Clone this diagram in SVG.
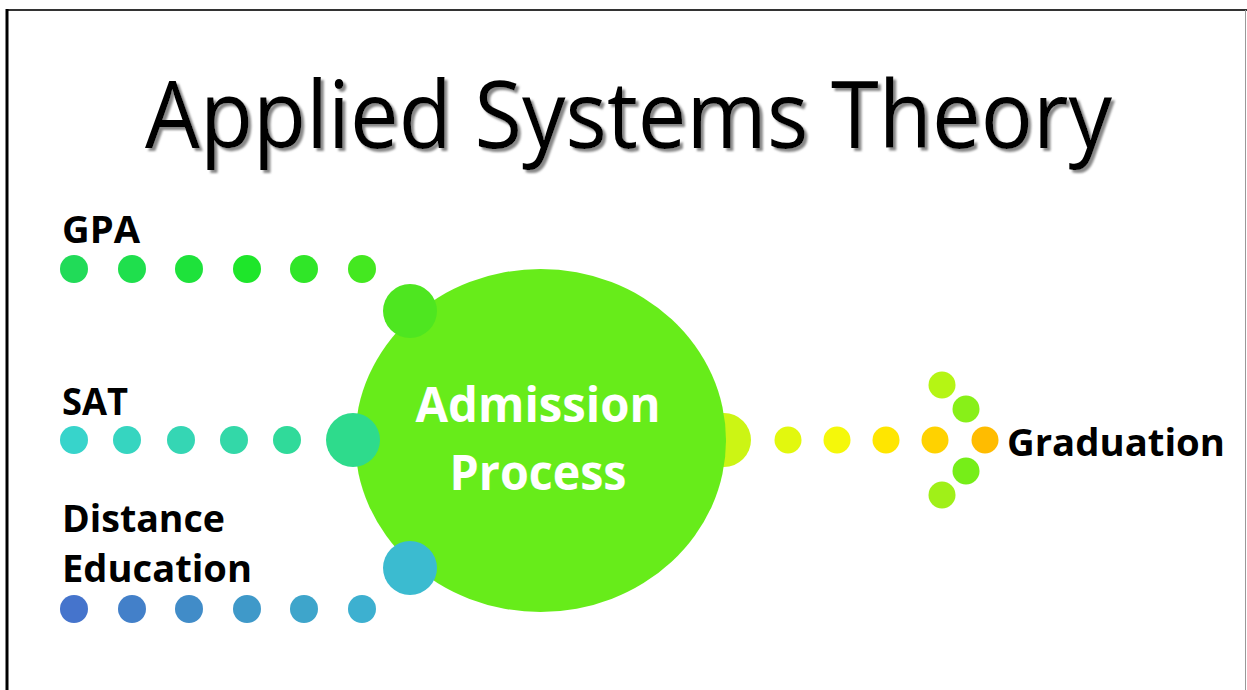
<svg xmlns="http://www.w3.org/2000/svg" width="1247" height="690" viewBox="0 0 1247 690">
<defs>
<filter id="shadow" x="-5%" y="-20%" width="110%" height="140%">
<feDropShadow dx="3" dy="3" stdDeviation="0.8" flood-color="#888" flood-opacity="1"/>
</filter>
</defs>
<style>
.lbl{font-family:"Open Sans","Liberation Sans",sans-serif;font-weight:700;font-size:37px;fill:#000}
.title{font-family:"Open Sans","Liberation Sans",sans-serif;font-weight:400;font-size:94px;fill:#000}
.inner{font-family:"Open Sans","Liberation Sans",sans-serif;font-weight:700;font-size:48px;fill:#fff}
</style>
<rect x="0" y="0" width="1247" height="690" fill="#fff"/>
<g id="frame">
<line x1="7" y1="10" x2="1247" y2="10" stroke="#333" stroke-width="2"/>
<line x1="7" y1="9" x2="7" y2="690" stroke="#000" stroke-width="3"/>
<line x1="1245.5" y1="10" x2="1245.5" y2="690" stroke="#999" stroke-width="1"/>
</g>
<g id="title">
<text class="title" x="145" y="148" filter="url(#shadow)" textLength="967" lengthAdjust="spacingAndGlyphs">Applied Systems Theory</text>
</g>
<g id="connectors">
<g id="gpa-dots">
<circle cx="74" cy="269" r="14" fill="#21DB58"/>
<circle cx="132" cy="269" r="14" fill="#1FDF4D"/>
<circle cx="189" cy="269" r="14" fill="#1EE23B"/>
<circle cx="247" cy="269" r="14" fill="#1EE62A"/>
<circle cx="304" cy="269" r="14" fill="#30E628"/>
<circle cx="362" cy="269" r="14" fill="#44E820"/>
</g>
<g id="sat-dots">
<circle cx="74" cy="440" r="14" fill="#37D4CB"/>
<circle cx="127" cy="440" r="14" fill="#36D5C0"/>
<circle cx="181" cy="440" r="14" fill="#35D6B4"/>
<circle cx="234" cy="440" r="14" fill="#33D8A8"/>
<circle cx="287" cy="440" r="14" fill="#30DA9A"/>
</g>
<g id="de-dots">
<circle cx="74" cy="609" r="14" fill="#4574CC"/>
<circle cx="132" cy="609" r="14" fill="#4380C9"/>
<circle cx="189" cy="609" r="14" fill="#418CC8"/>
<circle cx="247" cy="609" r="14" fill="#3F99C9"/>
<circle cx="304" cy="609" r="14" fill="#3EA5CB"/>
<circle cx="362" cy="609" r="14" fill="#3DB0D0"/>
</g>
<circle id="out-big" cx="724" cy="440" r="27" fill="#CCF514"/>
<g id="out-dots">
<circle cx="788" cy="440" r="13.5" fill="#E2F80E"/>
<circle cx="837" cy="440" r="13.5" fill="#F5F80A"/>
<circle cx="886" cy="440" r="13.5" fill="#FFE600"/>
<circle cx="935" cy="440" r="13.5" fill="#FFD200"/>
<circle cx="985" cy="440" r="13.5" fill="#FFBC00"/>
<circle cx="942" cy="385" r="13.5" fill="#B5F514"/>
<circle cx="966" cy="409" r="13.5" fill="#88F018"/>
<circle cx="966" cy="471" r="13.5" fill="#76EE18"/>
<circle cx="942" cy="495" r="13.5" fill="#A0F018"/>
</g>
</g>
<g id="admission">
<ellipse cx="540.5" cy="440.5" rx="185.5" ry="171.5" fill="#67EC1A"/>
<text class="inner" x="538" y="422" text-anchor="middle" textLength="245" lengthAdjust="spacingAndGlyphs">Admission</text>
<text class="inner" x="538" y="490" text-anchor="middle" textLength="177" lengthAdjust="spacingAndGlyphs">Process</text>
</g>
<g id="connectors-big">
<circle cx="410" cy="311" r="27" fill="#4EE620"/>
<circle cx="353" cy="440" r="27" fill="#2EDB8C"/>
<circle cx="410" cy="568" r="27" fill="#3BBBD0"/>
</g>
<g id="gpa"><text class="lbl" x="62" y="243" textLength="78" lengthAdjust="spacingAndGlyphs">GPA</text></g>
<g id="sat"><text class="lbl" x="62" y="415" textLength="66" lengthAdjust="spacingAndGlyphs">SAT</text></g>
<g id="distance-education">
<text class="lbl" x="62" y="532" textLength="163" lengthAdjust="spacingAndGlyphs">Distance</text>
<text class="lbl" x="62" y="582" textLength="190" lengthAdjust="spacingAndGlyphs">Education</text>
</g>
<g id="graduation"><text class="lbl" x="1007" y="456" textLength="218" lengthAdjust="spacingAndGlyphs">Graduation</text></g>
</svg>
